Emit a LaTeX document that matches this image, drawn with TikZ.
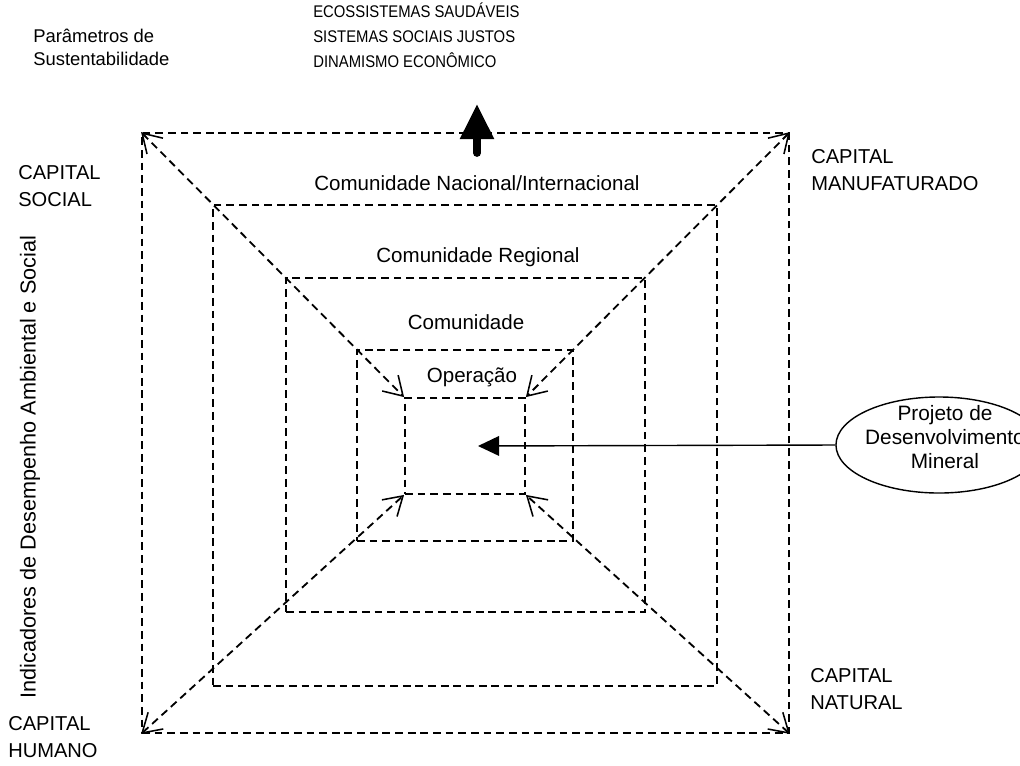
\documentclass[tikz,border=0pt]{standalone}
\usepackage{fontspec}
\setmainfont{Liberation Sans}
\newfontfamily\estreita[FakeStretch=0.88]{Liberation Sans}
\usetikzlibrary{arrows.meta}
\usetikzlibrary{shapes.geometric}
\usetikzlibrary{fit}

\begin{document}
\begin{tikzpicture}[x=0.025cm,y=-0.025cm,
		tracejado/.style={line width=1.3pt, dash pattern=on 5.5pt off 3.5pt},
		quadro/.style={tracejado, draw, inner sep=0pt},
		diagonal/.style={tracejado, {Straight Barb[length=13pt,width=16pt,line width=1.1pt]}-{Straight Barb[length=13pt,width=16pt,line width=1.1pt]}},
		rotulo/.style={inner sep=0pt, align=left, anchor=base west, font=\fontsize{14.3}{19}\selectfont},
		titulo/.style={inner sep=0pt, anchor=base, font=\fontsize{14.6}{17}\selectfont}]
		\useasboundingbox (0,0) rectangle (1020,765);
		% cantos dos quadros
		\coordinate (a1) at (142,133);
		\coordinate (b1) at (789,733);
		\coordinate (a2) at (213,205);
		\coordinate (b2) at (717,686);
		\coordinate (a3) at (286,278);
		\coordinate (b3) at (645,612);
		\coordinate (a4) at (357,350);
		\coordinate (b4) at (573,541);
		\coordinate (a5) at (405,398);
		\coordinate (b5) at (525,494);
		\node [quadro, fit=(a1)(b1)] (q1) {};
		\node [quadro, fit=(a2)(b2)] (q2) {};
		\node [quadro, fit=(a3)(b3)] (q3) {};
		\node [quadro, fit=(a4)(b4)] (q4) {};
		\node [quadro, fit=(a5)(b5)] (q5) {};
		% diagonais
		\draw [diagonal] (q1.north west) -- (q5.north west);
		\draw [diagonal] (q1.north east) -- (q5.north east);
		\draw [diagonal] (q1.south west) -- (q5.south west);
		\draw [diagonal] (q1.south east) -- (q5.south east);
		% niveis
		\node [titulo] (nacional) at (477,190) {Comunidade Nacional/Internacional};
		\node [titulo] (regional) at (478,262) {Comunidade Regional};
		\node [titulo] (comunidade) at (466,329) {Comunidade};
		\node [titulo] (operacao) at (472,382) {Operação};
		% capitais (base = ultima linha)
		\node [rotulo] (social) at (18,206) {CAPITAL\\SOCIAL};
		\node [rotulo] (manufaturado) at (811,190) {CAPITAL\\MANUFATURADO};
		\node [rotulo] (humano) at (8,757) {CAPITAL\\HUMANO};
		\node [rotulo] (natural) at (810,709) {CAPITAL\\NATURAL};
		\node [rotate=90, inner sep=0pt, font=\fontsize{15.4}{18}\selectfont] (indicadores) at (30,467) {Indicadores de Desempenho Ambiental e Social};
		% parametros
		\node [rotulo, font=\fontsize{13.1}{16.3}\selectfont] (parametros) at (33,65) {Parâmetros de\\Sustentabilidade};
		\node [rotulo, font=\estreita\fontsize{12}{17.7}\selectfont] (metas) at (313,67) {ECOSSISTEMAS SAUDÁVEIS\\SISTEMAS SOCIAIS JUSTOS\\DINAMISMO ECONÔMICO};
		\coordinate (haste) at (477,153);
		\coordinate (ponta) at (477,104);
		\draw [line width=5.5pt, line cap=round, -{Triangle[length=25pt,width=23pt]}] (haste) -- (ponta);
		% projeto
		\node [draw, ellipse, line width=1pt, minimum width=5.15cm, minimum height=2.4cm] (projeto) at (939,445) {};
		\node [inner sep=0pt, align=center, font=\fontsize{14.8}{16.8}\selectfont] (projetotexto) at (945,437) {Projeto de\\Desenvolvimento\\Mineral};
		\coordinate (alvo) at (478,446);
		\draw [line width=1pt, -{Triangle[length=15pt,width=14pt]}] (projeto.west) -- (alvo);
\end{tikzpicture}
\end{document}
